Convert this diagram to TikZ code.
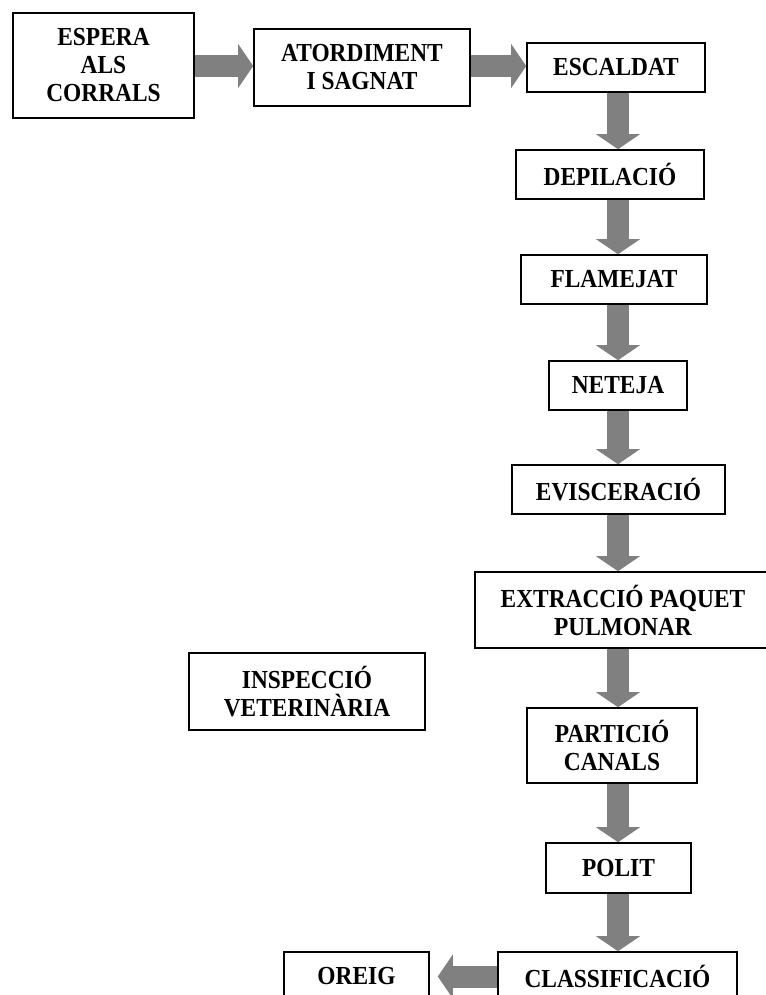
\documentclass[tikz,border=0pt]{standalone}
\usepackage{fontspec}
\setmainfont{Liberation Serif}
\newfontfamily\boxfont[FakeStretch=0.9]{Liberation Serif}
\usetikzlibrary{arrows.meta}
\tikzset{
    stepbox/.style = {rectangle, draw=black, line width=1.2pt, fill=white, align=center, inner sep=0pt, font=\boxfont\bfseries\fontsize{19.5}{21}\selectfont, text=black},
    flowarr/.style = {draw=gray, line width=16.5pt, -{Triangle[length=11.25pt, width=33pt, line width=0pt]}}, % block arrow
}

\begin{document}
\begin{tikzpicture}[x=0.75pt, y=-0.75pt]
\useasboundingbox (0,0) rectangle (766,995);
\clip (0,0) rectangle (766,995);

\coordinate (row) at (0,66);
\coordinate (col) at (618,0);

\node[stepbox, minimum width=135.75pt, minimum height=78.75pt] at (103.5, 65.5) (espera) {ESPERA\\ALS\\CORRALS};
\node[stepbox, minimum width=162pt, minimum height=57.75pt] at (362, 67.5) (atord) {ATORDIMENT\\I SAGNAT};
\node[stepbox, minimum width=133.5pt, minimum height=36.75pt] at (616, 67.5) (escaldat) {ESCALDAT};
\node[stepbox, minimum width=141pt, minimum height=36.75pt] at (610, 174.5) (depil) {DEPILACIÓ};
\node[stepbox, minimum width=139.5pt, minimum height=36.75pt] at (614, 279.5) (flam) {FLAMEJAT};
\node[stepbox, minimum width=103.5pt, minimum height=36.75pt] at (618, 385.5) (neteja) {NETEJA};
\node[stepbox, minimum width=159.75pt, minimum height=36.75pt] at (618.5, 489.5) (evisc) {EVISCERACIÓ};
\node[stepbox, minimum width=222pt, minimum height=57pt] at (623, 610) (extrac) {EXTRACCIÓ PAQUET\\PULMONAR};
\node[stepbox, minimum width=177pt, minimum height=57.75pt] at (307, 691.5) (insp) {INSPECCIÓ\\VETERINÀRIA};
\node[stepbox, minimum width=127.5pt, minimum height=56.25pt] at (612, 745.5) (partic) {PARTICIÓ\\CANALS};
\node[stepbox, minimum width=108.75pt, minimum height=37.5pt] at (618.5, 868) (polit) {POLIT};
\node[stepbox, minimum width=179.25pt, minimum height=36.75pt] at (617.5, 976.5) (classif) {CLASSIFICACIÓ};
\node[stepbox, minimum width=108.75pt, minimum height=36.75pt] at (356.5, 976.5) (oreig) {OREIG};

% top row
\draw[flowarr] (espera.east |- row) -- (atord.west |- row);
\draw[flowarr] (atord.east |- row) -- (escaldat.west |- row);
% column
\draw[flowarr] (escaldat.south -| col) -- (depil.north -| col);
\draw[flowarr] (depil.south -| col) -- (flam.north -| col);
\draw[flowarr] (flam.south -| col) -- (neteja.north -| col);
\draw[flowarr] (neteja.south -| col) -- (evisc.north -| col);
\draw[flowarr] (evisc.south -| col) -- (extrac.north -| col);
\draw[flowarr] (extrac.south -| col) -- (partic.north -| col);
\draw[flowarr] (partic.south -| col) -- (polit.north -| col);
\draw[flowarr] (polit.south -| col) -- (classif.north -| col);
\draw[flowarr] (classif.west) -- ([xshift=6pt]oreig.east);

\end{tikzpicture}
\end{document}
